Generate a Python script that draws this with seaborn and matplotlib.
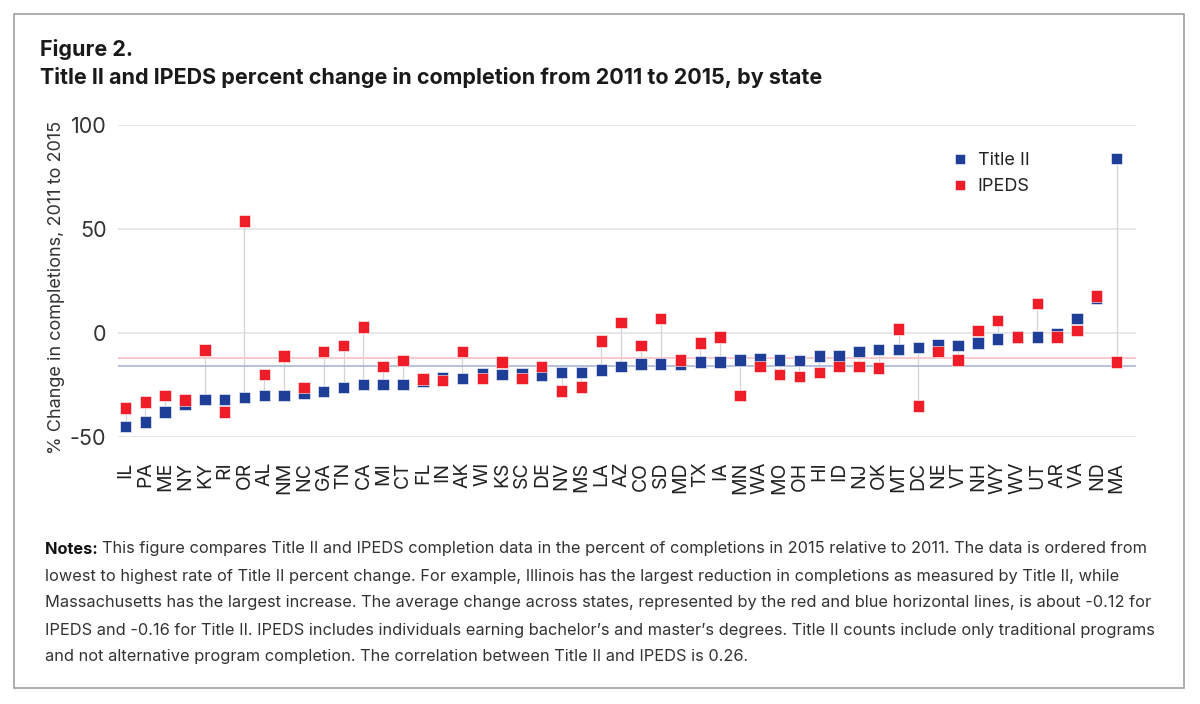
import pandas as pd
import numpy as np
import matplotlib.pyplot as plt
import seaborn as sns
from matplotlib.patches import Rectangle

sns.set_style("white")
plt.rcParams["font.family"] = ["Inter", "DejaVu Sans"]

# data (percent change 2011 -> 2015), ordered by Title II
states = ["IL", "PA", "ME", "NY", "KY", "RI", "OR", "AL", "NM", "NC", "GA", "TN", "CA",
          "MI", "CT", "FL", "IN", "AK", "WI", "KS", "SC", "DE", "NV", "MS", "LA", "AZ",
          "CO", "SD", "MD", "TX", "IA", "MN", "WA", "MO", "OH", "HI", "ID", "NJ", "OK",
          "MT", "DC", "NE", "VT", "NH", "WY", "WV", "UT", "AR", "VA", "ND", "MA"]
title2 = [-45.1, -43.0, -38.2, -34.2, -32.1, -32.1, -31.1, -30.2, -30.2, -29.1, -28.3,
          -26.2, -25.0, -25.0, -25.0, -23.3, -21.5, -22.0, -19.7, -20.1, -19.7, -20.2,
          -19.1, -19.1, -18.0, -16.2, -15.1, -15.1, -15.2, -14.1, -14.1, -13.0, -12.5,
          -13.0, -13.2, -11.1, -11.1, -9.1, -8.0, -8.0, -7.1, -5.8, -6.1, -5.0, -3.0,
          -2.1, -2.1, -0.5, 6.9, 16.4, 83.9]
ipeds = [-36.1, -33.2, -30.2, -32.3, -8.2, -38.2, 53.9, -20.1, -11.2, -26.2, -9.0,
         -6.1, 2.9, -16.2, -13.2, -22.2, -23.0, -9.1, -22.0, -14.1, -22.0, -16.1,
         -28.1, -26.0, -4.0, 5.0, -6.1, 6.9, -13.0, -5.0, -2.1, -30.2, -16.1, -20.1,
         -21.0, -19.1, -16.1, -16.1, -17.0, 1.9, -35.2, -9.0, -13.0, 1.0, 5.9, -2.1,
         14.0, -2.1, 1.0, 17.8, -14.0]
mean_title2 = -16
mean_ipeds = -12

blue = "#1f3e98"
red = "#ee1d27"

df = pd.DataFrame({"state": states, "Title II": title2, "IPEDS": ipeds})
long = df.melt(id_vars="state", var_name="source", value_name="change")

fig = plt.figure(figsize=(12, 7.04), dpi=100)
ax = fig.add_axes([0.098, 0.3797, 0.849, 0.4427])

# grid lines
for v in [100, 50, 0, -50]:
    ax.axhline(v, color="#e3e3e3", lw=1.2, zorder=0)

# stems between the two sources
x = np.arange(len(states))
ax.vlines(x, df["Title II"], df["IPEDS"], color="#d3d3d8", lw=0.9, zorder=1)

# average lines
ax.axhline(mean_ipeds, color="#f7c6c8", lw=1.3, zorder=1)
ax.axhline(mean_title2, color="#a9b6d9", lw=1.2, zorder=1)

sns.scatterplot(data=long, x="state", y="change", hue="source",
                palette={"Title II": blue, "IPEDS": red}, marker="s", s=68,
                linewidth=0.4, edgecolor="white", ax=ax, zorder=3)

ax.set_xlim(-0.4, 51)
ax.set_ylim(-50, 100)
ax.set_yticks([-50, 0, 50, 100])
ax.set_yticklabels(["-50", "0", "50", "100"], fontsize=15.5, color="#333333")
ax.set_xticks(x)
ax.set_xticklabels(states, rotation=90, fontsize=14, color="#222222")
ax.tick_params(axis="x", length=10, width=0.8, color="#dddddd", pad=8)
ax.tick_params(axis="y", length=0, pad=8)
for s in ax.spines.values():
    s.set_visible(False)
ax.set_xlabel("")
ax.set_ylabel("% Change in completions, 2011 to 2015", fontsize=13,
              color="#333333")
ax.yaxis.set_label_coords(-0.052, 0.48)

leg = ax.legend(loc="upper left", bbox_to_anchor=(0.793, 0.965), frameon=False,
                fontsize=13, handletextpad=0.0, labelspacing=0.5, markerscale=0.85)
for t in leg.get_texts():
    t.set_color("#222222")

# titles and notes
fig.text(40 / 1200, 1 - 50 / 704, "Figure 2.", fontsize=15.5, fontweight="bold",
         color="#1a1a1a", va="center")
fig.text(40 / 1200, 1 - 78 / 704,
         "Title II and IPEDS percent change in completion from 2011 to 2015, by state",
         fontsize=15.5, fontweight="bold", color="#1a1a1a", va="center")

notes = [
    "This figure compares Title II and IPEDS completion data in the percent of completions in 2015 relative to 2011. The data is ordered from",
    "lowest to highest rate of Title II percent change. For example, Illinois has the largest reduction in completions as measured by Title II, while",
    "Massachusetts has the largest increase. The average change across states, represented by the red and blue horizontal lines, is about -0.12 for",
    "IPEDS and -0.16 for Title II. IPEDS includes individuals earning bachelor\u2019s and master\u2019s degrees. Title II counts include only traditional programs",
    "and not alternative program completion. The correlation between Title II and IPEDS is 0.26.",
]
for i, line in enumerate(notes):
    y = 1 - (549 + 27 * i) / 704
    if i == 0:
        t = fig.text(45 / 1200, y, "Notes: ", fontsize=11.8, fontweight="bold",
                     color="#111111", va="center")
        fig.canvas.draw()
        bb = t.get_window_extent()
        fig.text(bb.x1 / 1200, y, line, fontsize=11.8, color="#333333", va="center")
    else:
        fig.text(45 / 1200, y, line, fontsize=11.8, color="#333333", va="center")

fig.patches.append(Rectangle((14 / 1200, 1 - 688 / 704), 1170 / 1200, 674 / 704,
                             transform=fig.transFigure, fill=False,
                             edgecolor="#a0a0a0", lw=1.2))

fig.savefig("out.png", dpi=100)
